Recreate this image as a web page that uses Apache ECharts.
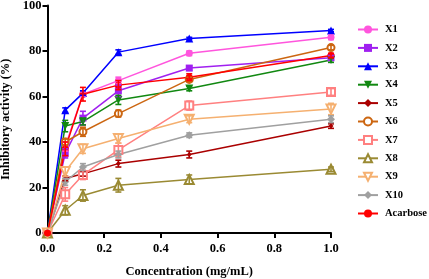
<!DOCTYPE html>
<html>
<head>
<meta charset="utf-8">
<script src="https://cdn.jsdelivr.net/npm/echarts@6/dist/echarts.min.js"></script>
<style>
  html, body { margin: 0; padding: 0; background: #fff; }
  #chart { width: 429px; height: 279px; }
</style>
</head>
<body>
<div id="chart"></div>
<script>
// concentrations (mg/mL)
var conc = [0, 0.0625, 0.125, 0.25, 0.5, 1.0];
var xTicks = [0, 0.2, 0.4, 0.6, 0.8, 1.0];
var yTicks = [0, 20, 40, 60, 80, 100];

var X1 = [0, 38, 61, 67, 79, 86];
var X2 = [0, 35, 50.5, 62.5, 72.5, 77];
var X3 = [0, 54, 61.5, 79.5, 85.5, 89];
var X4 = [0, 47, 49, 58.5, 63.5, 76];
var X5 = [0, 24, 26, 30.5, 34.5, 47];
var X6 = [0, 40, 44.5, 52.5, 67.5, 81.5];
var X7 = [0, 17, 25.5, 36.5, 56, 62];
var X8 = [0, 10, 16.5, 21, 23.5, 28];
var X9 = [0, 27, 37, 41.5, 50, 54.5];
var X10 = [0, 22.5, 29, 34.5, 43, 50];
var Acarbose = [0, 37, 61, 65, 68.5, 78];

// standard deviations
var X1err = [0, 2, 1, 1.5, 1, 1];
var X2err = [0, 2, 3, 2.5, 1, 1];
var X3err = [0, 1, 1, 1, 0.5, 0.5];
var X4err = [0, 2.5, 1.5, 2, 1, 1];
var X5err = [0, 1, 1, 1.5, 1.5, 1];
var X6err = [0, 1.5, 2, 1.5, 1, 1];
var X7err = [0, 3, 2, 3, 2, 1.5];
var X8err = [0, 2, 2.5, 3, 2, 1];
var X9err = [0, 2, 2, 2, 1.5, 2.5];
var X10err = [0, 1.5, 1.5, 1.5, 1, 1.5];
var Acarboseerr = [0, 3, 3, 2, 1.5, 1];

var FONT = '"Liberation Serif", "DejaVu Serif", serif';

var seriesDefs = [
  {name: 'X1', data: X1, err: X1err, color: '#ff55dd', symbol: 'circle', size: 7},
  {name: 'X2', data: X2, err: X2err, color: '#a020f0', symbol: 'rect', size: 7},
  {name: 'X3', data: X3, err: X3err, color: '#0000ff', symbol: 'triangle', size: 8},
  {name: 'X4', data: X4, err: X4err, color: '#118811', symbol: 'triangle', rotate: 180, size: 8},
  {name: 'X5', data: X5, err: X5err, color: '#aa0000', symbol: 'diamond', size: 5},
  {name: 'X6', data: X6, err: X6err, color: '#cc6611', symbol: 'emptyCircle', size: 7},
  {name: 'X7', data: X7, err: X7err, color: '#ff8080', symbol: 'emptyRect', size: 8},
  {name: 'X8', data: X8, err: X8err, color: '#9a8a33', symbol: 'emptyTriangle', size: 9},
  {name: 'X9', data: X9, err: X9err, color: '#f5b070', symbol: 'emptyTriangle', rotate: 180, size: 9},
  {name: 'X10', data: X10, err: X10err, color: '#a0a0a0', symbol: 'diamond', size: 8},
  {name: 'Acarbose', data: Acarbose, err: Acarboseerr, color: '#ff0000', symbol: 'circle', size: 7}
];

function errorBar(color){
  return function(params, api){
    var x = api.value(0), y = api.value(1), e = api.value(2);
    if (!e) return;
    var hi = api.coord([x, y + e]);
    var lo = api.coord([x, y - e]);
    var w = 3;
    var st = {stroke: color, lineWidth: 1.6};
    return {
      type: 'group',
      children: [
        {type: 'line', shape: {x1: hi[0], y1: hi[1], x2: lo[0], y2: lo[1]}, style: st},
        {type: 'line', shape: {x1: hi[0] - w, y1: hi[1], x2: hi[0] + w, y2: hi[1]}, style: st},
        {type: 'line', shape: {x1: lo[0] - w, y1: lo[1], x2: lo[0] + w, y2: lo[1]}, style: st}
      ]
    };
  };
}

var series = [];
seriesDefs.forEach(function(d){
  series.push({
    name: d.name,
    type: 'line',
    data: conc.map(function(c, i){ return [c, d.data[i]]; }),
    symbol: d.symbol,
    symbolSize: d.size,
    symbolRotate: d.rotate || 0,
    showAllSymbol: true,
    clip: false,
    lineStyle: {color: d.color, width: 1.5},
    itemStyle: {color: d.color, borderColor: d.color, borderWidth: d.symbol.indexOf('empty') === 0 ? 2 : 0},
    z: 3
  });
  series.push({
    name: d.name,
    type: 'custom',
    renderItem: errorBar(d.color),
    data: conc.map(function(c, i){ return [c, d.data[i], d.err[i]]; }),
    encode: {x: 0, y: 1},
    clip: false,
    silent: true,
    z: 4
  });
});

var chart = echarts.init(document.getElementById('chart'), null, {renderer: 'canvas'});
chart.setOption({
  animation: false,
  backgroundColor: '#fff',
  grid: {left: 47.5, right: 98, top: 5.5, bottom: 46, containLabel: false, outerBoundsMode: 'none'},
  legend: {
    orient: 'vertical',
    left: 352,
    top: 19,
    itemWidth: 20,
    itemHeight: 10,
    itemGap: 7.4,
    data: seriesDefs.map(function(d){ return d.name; }),
    textStyle: {fontFamily: FONT, fontWeight: 'bold', fontSize: 10.5, color: '#000', padding: [0, 0, 0, 2]}
  },
  xAxis: {
    type: 'value',
    min: 0, max: 1, interval: 0.2,
    name: 'Concentration (mg/mL)',
    nameLocation: 'middle',
    nameGap: 32,
    nameTextStyle: {fontFamily: FONT, fontWeight: 'bold', fontSize: 12.5, color: '#000'},
    axisLine: {show: true, onZero: false, lineStyle: {color: '#000', width: 2}},
    axisTick: {show: true, length: 5, lineStyle: {color: '#000', width: 2}},
    axisLabel: {
      fontFamily: FONT, fontWeight: 'bold', fontSize: 12.5, color: '#000', margin: 9,
      formatter: function(v){ return xTicks.indexOf(Math.round(v * 10) / 10) >= 0 ? v.toFixed(1) : ''; }
    },
    splitLine: {show: false}
  },
  yAxis: {
    type: 'value',
    min: 0, max: 100, interval: 20,
    name: 'Inhibitory activity (%)',
    nameLocation: 'middle',
    nameGap: 34,
    nameTextStyle: {fontFamily: FONT, fontWeight: 'bold', fontSize: 12.5, color: '#000'},
    axisLine: {show: true, onZero: false, lineStyle: {color: '#000', width: 2}},
    axisTick: {show: true, length: 5, lineStyle: {color: '#000', width: 2}},
    axisLabel: {
      fontFamily: FONT, fontWeight: 'bold', fontSize: 12.5, color: '#000', margin: 6,
      formatter: function(v){ return yTicks.indexOf(v) >= 0 ? String(v) : ''; }
    },
    splitLine: {show: false}
  },
  series: series
});
</script>
</body>
</html>
